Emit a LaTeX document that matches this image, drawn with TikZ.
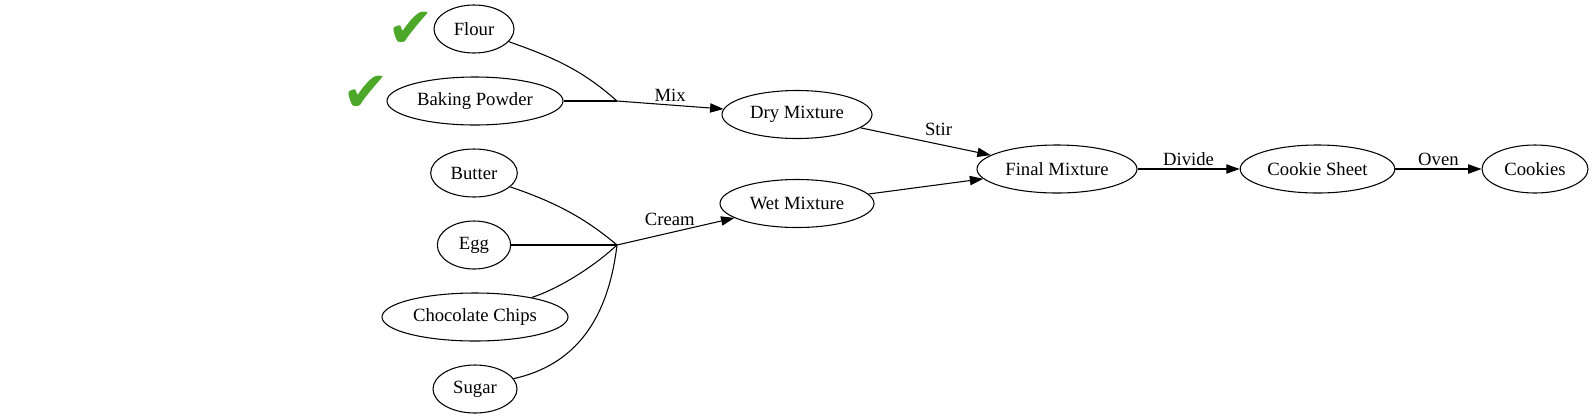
\documentclass[tikz,border=0pt]{standalone}
\usepackage{fontspec}
\setmainfont{Liberation Serif}
\newfontfamily\tickfont{DejaVu Sans}
\usetikzlibrary{shapes.geometric,arrows.meta}
\definecolor{tickgreen}{RGB}{77,168,41}

\tikzset{
  item/.style={draw,ellipse,line width=0.8pt,minimum width=#1,minimum height=36pt,
               inner xsep=0pt,inner ysep=0pt,font=\fontsize{14pt}{16pt}\selectfont},
  item/.default=54pt,
  flow/.style={line width=0.8pt,-{Triangle[length=10pt,width=7pt]}},
  feed/.style={line width=0.8pt},
  lbl/.style={font=\fontsize{14pt}{16pt}\selectfont,inner sep=2pt},
  tick/.style={text=tickgreen,font=\tickfont\fontsize{42pt}{42pt}\selectfont,inner sep=0pt}
}

\begin{document}
\begin{tikzpicture}[x=0.75pt,y=-0.75pt]
  \useasboundingbox (0,0) rectangle (1594,419);

  % ingredients
  \node[item=60pt]    (flour)   at (474,29)  {Flour};
  \node[item=132pt]   (powder)  at (475,101) {Baking Powder};
  \node[item=65pt]    (butter)  at (474,173) {Butter};
  \node[item=55pt]    (egg)     at (474,245) {Egg};
  \node[item=139.5pt] (chips)   at (475,317) {Chocolate Chips};
  \node[item=63pt]    (sugar)   at (475,389) {Sugar};

  % already there
  \node[tick] (flourok)  at (410.5,30) {✔};
  \node[tick] (powderok) at (365.5,94) {✔};

  % mixtures and the rest
  \node[item=112.5pt] (dry)     at (797,114.5)  {Dry Mixture};
  \node[item=115.5pt] (wet)     at (797,203.5)  {Wet Mixture};
  \node[item=120pt]   (final)   at (1057,169)   {Final Mixture};
  \node[item=116pt]   (sheet)   at (1317.5,169) {Cookie Sheet};
  \node[item=79.5pt]  (cookies) at (1535,169)   {Cookies};

  \coordinate (mix)   at (617,101);
  \coordinate (cream) at (617,245);

  % dry side
  \draw[feed] (flour.-20) .. controls (555,58) and (582,70) .. (mix);
  \draw[feed] (powder) -- (mix);
  \draw[flow] (mix) -- node[lbl,above] {Mix} (dry);

  % wet side
  \draw[feed] (butter.-21) .. controls (555,202) and (585,218) .. (cream);
  \draw[feed] (egg) -- (cream);
  \draw[feed] (chips.19) .. controls (555,290) and (590,270) .. (cream);
  \draw[feed] (sugar.15) .. controls (575,365) and (608,320) .. (cream);
  \draw[flow] (cream) -- node[lbl,above=3pt,pos=0.45] {Cream} (wet);

  \draw[flow] (dry) -- node[lbl,above=4pt,pos=0.6] {Stir} (final);
  \draw[flow] (wet) -- (final);
  \draw[flow] (final) -- node[lbl,above] {Divide} (sheet);
  \draw[flow] (sheet) -- node[lbl,above] {Oven} (cookies);
\end{tikzpicture}
\end{document}
